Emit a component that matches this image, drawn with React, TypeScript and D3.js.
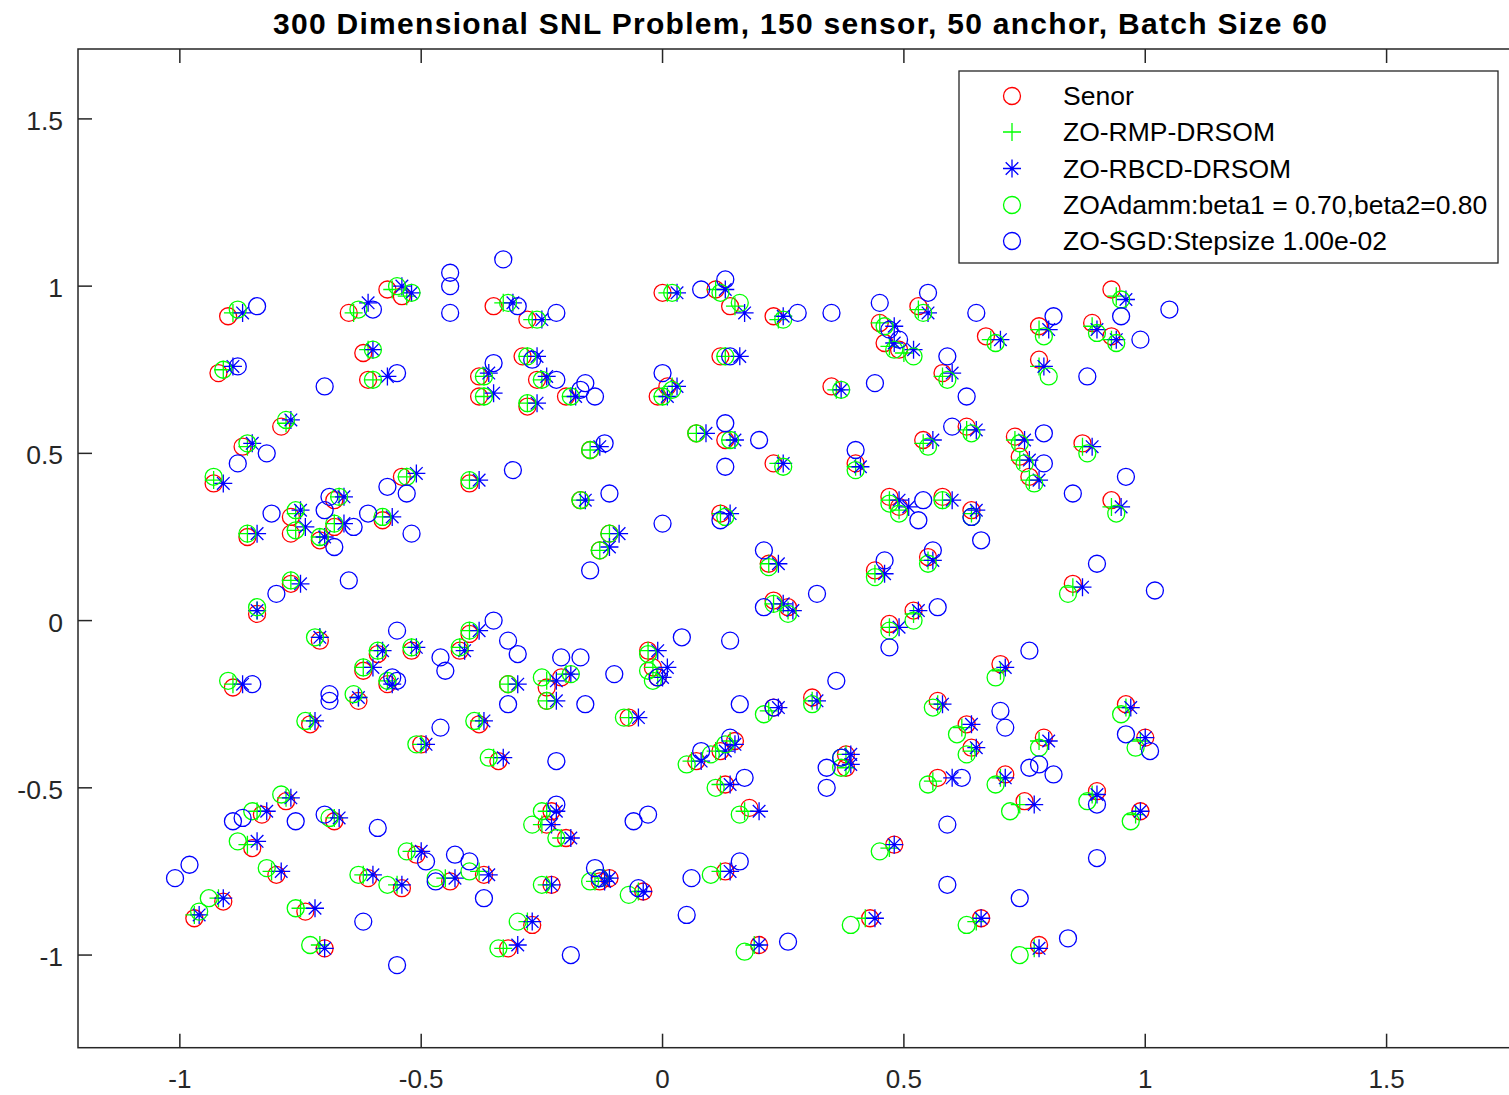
import React from "react";
import * as d3 from "d3";

type Pt = [number, number];

const titleText = "300 Dimensional SNL Problem, 150 sensor, 50 anchor, Batch Size 60";
const xTicks = [-1, -0.5, 0, 0.5, 1, 1.5];
const yTicks = [-1, -0.5, 0, 0.5, 1, 1.5];
const tickLabels = ["-1", "-0.5", "0", "0.5", "1", "1.5"];
const legendLabels = [
  "Senor",
  "ZO-RMP-DRSOM",
  "ZO-RBCD-DRSOM",
  "ZOAdamm:beta1 = 0.70,beta2=0.80",
  "ZO-SGD:Stepsize 1.00e-02",
];

// true sensor positions (red circles)
const senor: Pt[] = [
  [-0.90, 0.91], [-0.92, 0.74], [-0.65, 0.92], [-0.57, 0.99], [-0.54, 0.97], [-0.62, 0.80], [-0.61, 0.72], [-0.35, 0.94],
  [-0.38, 0.73], [-0.38, 0.67], [-0.79, 0.58], [-0.87, 0.52], [-0.93, 0.41], [-0.54, 0.43], [-0.40, 0.41],
  [-0.28, 0.90], [0.00, 0.98], [0.11, 0.99], [0.14, 0.94], [0.23, 0.91], [-0.29, 0.79], [-0.26, 0.72], [-0.20, 0.67],
  [-0.28, 0.64], [-0.01, 0.67], [0.01, 0.70], [0.12, 0.79], [0.35, 0.70], [0.07, 0.56], [0.13, 0.54], [0.23, 0.47], [-0.15, 0.51],
  [0.93, 0.99], [0.53, 0.94], [0.45, 0.89], [0.46, 0.83], [0.49, 0.81], [0.78, 0.88], [0.89, 0.89], [0.93, 0.85], [0.67, 0.85],
  [0.78, 0.78], [0.58, 0.74], [0.63, 0.58], [0.54, 0.54], [0.73, 0.55], [0.74, 0.49], [0.76, 0.43], [0.87, 0.53], [0.40, 0.47],
  [-0.68, 0.36], [-0.77, 0.31], [-0.77, 0.26], [-0.86, 0.25], [-0.71, 0.24], [-0.68, 0.28], [-0.58, 0.30], [-0.77, 0.11],
  [-0.84, 0.02], [-0.71, -0.06], [-0.59, -0.10], [-0.52, -0.09], [-0.40, -0.04], [-0.42, -0.09], [-0.62, -0.15], [-0.57, -0.19],
  [-0.63, -0.24], [-0.89, -0.20], [-0.38, -0.31], [-0.73, -0.31],
  [-0.17, 0.36], [-0.11, 0.26], [-0.13, 0.21], [0.12, 0.32], [0.22, 0.17], [0.23, 0.06], [0.26, 0.04], [-0.32, -0.19],
  [-0.24, -0.20], [-0.21, -0.17], [-0.24, -0.24], [-0.07, -0.29], [-0.03, -0.09], [-0.02, -0.14], [-0.01, -0.17], [0.23, -0.26], [0.31, -0.23],
  [0.47, 0.37], [0.49, 0.34], [0.58, 0.37], [0.64, 0.33], [0.93, 0.36], [0.44, 0.15], [0.55, 0.19], [0.85, 0.11], [0.52, 0.03],
  [0.47, -0.01], [0.70, -0.13], [0.57, -0.24], [0.63, -0.31], [0.96, -0.25],
  [-0.50, -0.37], [-0.34, -0.42], [-0.78, -0.54], [-0.83, -0.58], [-0.68, -0.60], [-0.85, -0.68], [-0.51, -0.70], [-0.80, -0.76],
  [-0.61, -0.77], [-0.54, -0.80], [-0.44, -0.78], [-0.37, -0.76], [-0.97, -0.89], [-0.91, -0.84], [-0.74, -0.87], [-0.70, -0.98],
  [-0.23, -0.57], [-0.24, -0.61], [-0.20, -0.65], [0.15, -0.36], [0.12, -0.39], [0.07, -0.42], [0.13, -0.49], [0.18, -0.56],
  [0.13, -0.75], [-0.13, -0.78], [-0.11, -0.77], [-0.04, -0.81], [-0.23, -0.79], [-0.27, -0.91], [-0.32, -0.98], [0.20, -0.97],
  [0.64, -0.38], [0.79, -0.35], [0.71, -0.46], [0.57, -0.47], [0.75, -0.54], [1.00, -0.35], [0.90, -0.51], [0.99, -0.57],
  [0.38, -0.40], [0.38, -0.44], [0.48, -0.67], [0.43, -0.89], [0.66, -0.89], [0.78, -0.97],
];

// ZO-RMP-DRSOM (green plus)
const zoRmp: Pt[] = [
  [-0.89, 0.92], [-0.91, 0.75], [-0.64, 0.92], [-0.56, 0.99], [-0.53, 0.97], [-0.61, 0.81], [-0.60, 0.72], [-0.33, 0.95],
  [-0.37, 0.73], [-0.37, 0.67], [-0.78, 0.59], [-0.86, 0.52], [-0.93, 0.42], [-0.53, 0.43], [-0.40, 0.42],
  [-0.27, 0.90], [0.01, 0.98], [0.11, 0.99], [0.15, 0.94], [0.24, 0.90], [-0.28, 0.79], [-0.25, 0.72], [-0.19, 0.67],
  [-0.28, 0.65], [0.00, 0.67], [0.02, 0.70], [0.13, 0.79], [0.36, 0.69], [0.07, 0.56], [0.14, 0.54], [0.24, 0.47], [-0.15, 0.51],
  [0.94, 0.97], [0.53, 0.93], [0.45, 0.89], [0.47, 0.82], [0.50, 0.80], [0.78, 0.87], [0.89, 0.88], [0.93, 0.84], [0.68, 0.84],
  [0.78, 0.76], [0.58, 0.73], [0.63, 0.57], [0.54, 0.53], [0.73, 0.54], [0.74, 0.48], [0.76, 0.42], [0.87, 0.52], [0.40, 0.46],
  [-0.67, 0.37], [-0.76, 0.32], [-0.76, 0.27], [-0.86, 0.26], [-0.71, 0.25], [-0.68, 0.29], [-0.58, 0.31], [-0.77, 0.12],
  [-0.84, 0.03], [-0.71, -0.05], [-0.59, -0.09], [-0.52, -0.08], [-0.40, -0.03], [-0.42, -0.08], [-0.62, -0.14], [-0.57, -0.18],
  [-0.63, -0.23], [-0.89, -0.19], [-0.38, -0.30], [-0.73, -0.30],
  [-0.17, 0.36], [-0.11, 0.26], [-0.13, 0.21], [0.12, 0.32], [0.22, 0.17], [0.23, 0.05], [0.26, 0.03], [-0.32, -0.19],
  [-0.24, -0.18], [-0.20, -0.16], [-0.24, -0.24], [-0.07, -0.29], [-0.03, -0.09], [-0.02, -0.14], [-0.01, -0.17], [0.22, -0.27], [0.31, -0.24],
  [0.47, 0.36], [0.49, 0.33], [0.58, 0.36], [0.64, 0.32], [0.93, 0.34], [0.44, 0.14], [0.55, 0.18], [0.85, 0.10], [0.52, 0.02],
  [0.47, -0.02], [0.70, -0.15], [0.57, -0.25], [0.62, -0.32], [0.96, -0.26],
  [-0.50, -0.37], [-0.35, -0.41], [-0.78, -0.53], [-0.84, -0.57], [-0.68, -0.59], [-0.86, -0.67], [-0.52, -0.69], [-0.81, -0.75],
  [-0.62, -0.76], [-0.55, -0.79], [-0.45, -0.77], [-0.38, -0.75], [-0.97, -0.88], [-0.92, -0.83], [-0.75, -0.86], [-0.71, -0.97],
  [-0.24, -0.57], [-0.25, -0.61], [-0.21, -0.65], [0.14, -0.36], [0.11, -0.39], [0.06, -0.42], [0.12, -0.49], [0.17, -0.57],
  [0.12, -0.75], [-0.14, -0.78], [-0.12, -0.77], [-0.05, -0.81], [-0.24, -0.79], [-0.28, -0.90], [-0.33, -0.98], [0.19, -0.97],
  [0.64, -0.39], [0.78, -0.36], [0.70, -0.47], [0.56, -0.48], [0.74, -0.55], [0.99, -0.36], [0.89, -0.52], [0.98, -0.58],
  [0.38, -0.40], [0.38, -0.44], [0.47, -0.68], [0.42, -0.89], [0.65, -0.90], [0.77, -0.98],
];

// ZO-RBCD-DRSOM (blue star)
const zoRbcd: Pt[] = [
  [-0.87, 0.92], [-0.89, 0.76], [-0.61, 0.95], [-0.54, 1.00], [-0.52, 0.98], [-0.60, 0.81], [-0.57, 0.73], [-0.36, 0.74],
  [-0.35, 0.68], [-0.77, 0.60], [-0.85, 0.53], [-0.91, 0.41], [-0.51, 0.44], [-0.38, 0.42],
  [-0.31, 0.95], [-0.25, 0.90], [0.03, 0.98], [0.13, 0.99], [0.17, 0.92], [0.25, 0.91], [-0.26, 0.79], [-0.24, 0.73], [-0.18, 0.67],
  [-0.26, 0.65], [0.01, 0.67], [0.03, 0.70], [0.16, 0.79], [0.09, 0.56], [0.15, 0.54], [0.25, 0.47], [-0.13, 0.52],
  [0.96, 0.96], [0.55, 0.92], [0.48, 0.88], [0.48, 0.83], [0.52, 0.81], [0.80, 0.87], [0.90, 0.87], [0.94, 0.84], [0.70, 0.84],
  [0.79, 0.76], [0.60, 0.74], [0.37, 0.69], [0.65, 0.57], [0.56, 0.54], [0.75, 0.54], [0.76, 0.48], [0.78, 0.42], [0.89, 0.52], [0.41, 0.46],
  [-0.66, 0.37], [-0.75, 0.33], [-0.74, 0.28], [-0.84, 0.26], [-0.70, 0.25], [-0.66, 0.29], [-0.56, 0.31], [-0.75, 0.11],
  [-0.84, 0.03], [-0.71, -0.05], [-0.58, -0.09], [-0.51, -0.08], [-0.38, -0.03], [-0.41, -0.09], [-0.60, -0.14], [-0.56, -0.19],
  [-0.63, -0.23], [-0.87, -0.19], [-0.37, -0.30], [-0.72, -0.30],
  [-0.16, 0.36], [-0.09, 0.26], [-0.11, 0.22], [0.14, 0.32], [0.24, 0.17], [0.25, 0.05], [0.27, 0.03], [-0.30, -0.19],
  [-0.22, -0.18], [-0.19, -0.16], [-0.22, -0.24], [-0.05, -0.29], [-0.01, -0.09], [0.01, -0.14], [0.00, -0.17], [0.24, -0.26], [0.32, -0.24],
  [0.49, 0.36], [0.51, 0.34], [0.60, 0.36], [0.65, 0.33], [0.95, 0.34], [0.46, 0.14], [0.56, 0.18], [0.87, 0.10], [0.53, 0.03],
  [0.49, -0.02], [0.71, -0.14], [0.58, -0.25], [0.64, -0.31], [0.97, -0.26],
  [-0.49, -0.37], [-0.33, -0.41], [-0.77, -0.53], [-0.82, -0.57], [-0.67, -0.59], [-0.84, -0.66], [-0.50, -0.69], [-0.79, -0.75],
  [-0.60, -0.76], [-0.54, -0.79], [-0.43, -0.77], [-0.36, -0.76], [-0.96, -0.88], [-0.91, -0.83], [-0.72, -0.86], [-0.70, -0.98],
  [-0.22, -0.57], [-0.23, -0.61], [-0.19, -0.65], [0.15, -0.37], [0.13, -0.39], [0.08, -0.42], [0.14, -0.49], [0.20, -0.57],
  [0.14, -0.75], [-0.12, -0.78], [-0.11, -0.77], [-0.04, -0.81], [-0.23, -0.79], [-0.27, -0.90], [-0.30, -0.97], [0.20, -0.97],
  [0.65, -0.38], [0.80, -0.36], [0.71, -0.47], [0.60, -0.47], [0.77, -0.55], [1.00, -0.35], [0.90, -0.52], [0.99, -0.57],
  [0.39, -0.40], [0.39, -0.43], [0.48, -0.67], [0.44, -0.89], [0.66, -0.89], [0.78, -0.98],
];

// ZOAdamm (green circles)
const zoAdamm: Pt[] = [
  [-0.88, 0.93], [-0.91, 0.75], [-0.63, 0.93], [-0.55, 1.00], [-0.52, 0.98], [-0.60, 0.81], [-0.60, 0.72], [-0.37, 0.73],
  [-0.37, 0.67], [-0.78, 0.60], [-0.86, 0.53], [-0.93, 0.43], [-0.53, 0.43], [-0.40, 0.42],
  [-0.32, 0.95], [-0.26, 0.90], [0.02, 0.98], [0.12, 0.98], [0.16, 0.95], [0.25, 0.90], [-0.28, 0.79], [-0.25, 0.72], [-0.19, 0.67],
  [-0.28, 0.65], [0.00, 0.67], [0.02, 0.69], [0.13, 0.79], [0.37, 0.69], [0.07, 0.56], [0.14, 0.54], [0.25, 0.46], [-0.15, 0.51],
  [0.95, 0.96], [0.54, 0.92], [0.46, 0.88], [0.48, 0.81], [0.52, 0.79], [0.79, 0.85], [0.90, 0.86], [0.94, 0.83], [0.69, 0.83],
  [0.80, 0.73], [0.59, 0.72], [0.64, 0.56], [0.55, 0.52], [0.74, 0.53], [0.75, 0.47], [0.77, 0.41], [0.88, 0.50], [0.40, 0.45],
  [-0.67, 0.37], [-0.76, 0.33], [-0.76, 0.27], [-0.86, 0.26], [-0.71, 0.25], [-0.68, 0.29], [-0.58, 0.31], [-0.77, 0.12],
  [-0.84, 0.04], [-0.72, -0.05], [-0.59, -0.09], [-0.52, -0.08], [-0.40, -0.03], [-0.42, -0.08], [-0.62, -0.14], [-0.57, -0.18],
  [-0.64, -0.22], [-0.90, -0.18], [-0.39, -0.30], [-0.74, -0.30],
  [-0.17, 0.36], [-0.11, 0.26], [-0.13, 0.21], [0.13, 0.31], [0.22, 0.16], [0.23, 0.05], [0.26, 0.02], [-0.32, -0.19],
  [-0.25, -0.17], [-0.19, -0.16], [-0.24, -0.24], [-0.08, -0.29], [-0.03, -0.10], [-0.03, -0.15], [-0.02, -0.18], [0.21, -0.28], [0.31, -0.25],
  [0.47, 0.35], [0.49, 0.32], [0.58, 0.36], [0.64, 0.31], [0.94, 0.32], [0.44, 0.13], [0.55, 0.17], [0.84, 0.08], [0.52, 0.00],
  [0.47, -0.03], [0.69, -0.17], [0.56, -0.26], [0.95, -0.28],
  [-0.51, -0.37], [-0.36, -0.41], [-0.79, -0.52], [-0.85, -0.57], [-0.69, -0.59], [-0.88, -0.66], [-0.53, -0.69], [-0.82, -0.74],
  [-0.63, -0.76], [-0.57, -0.79], [-0.47, -0.77], [-0.40, -0.75], [-0.96, -0.87], [-0.94, -0.83], [-0.76, -0.86], [-0.73, -0.97], [-0.34, -0.98],
  [-0.25, -0.57], [-0.27, -0.61], [-0.22, -0.65], [0.05, -0.43], [0.10, -0.40], [0.13, -0.37], [0.11, -0.50], [0.16, -0.58],
  [0.10, -0.76], [-0.15, -0.78], [-0.13, -0.77], [-0.07, -0.82], [-0.25, -0.79], [-0.30, -0.90], [0.17, -0.99],
  [0.61, -0.34], [0.63, -0.40], [0.78, -0.38], [0.69, -0.49], [0.55, -0.49], [0.72, -0.57], [0.98, -0.38], [0.88, -0.54],
  [0.97, -0.60], [0.37, -0.44], [0.37, -0.41], [0.45, -0.69], [0.39, -0.91], [0.63, -0.91], [0.74, -1.00],
];

// ZO-SGD (blue circles)
const zoSgd: Pt[] = [
  [-0.84, 0.94], [-0.88, 0.76], [-0.60, 0.93], [-0.44, 1.04], [-0.44, 1.00], [-0.44, 0.92], [-0.33, 1.08], [-0.70, 0.70],
  [-0.55, 0.74], [-0.35, 0.77], [-0.82, 0.50], [-0.88, 0.47], [-0.57, 0.40],
  [-0.30, 0.94], [-0.22, 0.92], [0.13, 1.02], [0.08, 0.99], [0.28, 0.92], [0.35, 0.92], [-0.27, 0.78], [-0.22, 0.72], [-0.16, 0.71],
  [-0.14, 0.67], [-0.17, 0.69], [0.00, 0.74], [0.14, 0.79], [0.13, 0.59], [0.20, 0.54], [0.13, 0.46], [-0.12, 0.53], [-0.31, 0.45],
  [0.45, 0.95], [0.55, 0.98], [0.65, 0.92], [0.81, 0.91], [0.95, 0.91], [1.05, 0.93], [0.47, 0.87], [0.49, 0.84], [0.99, 0.84],
  [0.59, 0.79], [0.88, 0.73], [0.44, 0.71], [0.63, 0.67], [0.60, 0.58], [0.79, 0.56], [0.79, 0.47], [0.40, 0.51], [0.96, 0.43],
  [-0.53, 0.38], [-0.69, 0.37], [-0.70, 0.33], [-0.81, 0.32], [-0.64, 0.28], [-0.61, 0.32], [-0.68, 0.22], [-0.52, 0.26],
  [-0.65, 0.12], [-0.80, 0.08], [-0.55, -0.03], [-0.46, -0.11], [-0.45, -0.15], [-0.56, -0.17], [-0.55, -0.18], [-0.69, -0.22],
  [-0.69, -0.24], [-0.85, -0.19], [-0.35, 0.00], [-0.46, -0.32],
  [-0.11, 0.38], [-0.15, 0.15], [0.00, 0.29], [0.12, 0.30], [0.21, 0.21], [0.21, 0.04], [0.32, 0.08], [-0.32, -0.06],
  [-0.30, -0.10], [-0.21, -0.11], [-0.17, -0.11], [-0.10, -0.16], [-0.16, -0.25], [-0.32, -0.25], [-0.01, -0.17], [0.04, -0.05],
  [0.14, -0.06], [0.36, -0.18], [0.16, -0.25], [0.23, -0.26],
  [0.85, 0.38], [0.54, 0.36], [0.53, 0.30], [0.64, 0.31], [0.66, 0.24], [0.46, 0.18], [0.56, 0.21], [0.90, 0.17], [1.02, 0.09],
  [0.57, 0.04], [0.47, -0.08], [0.76, -0.09], [0.70, -0.27], [0.71, -0.32],
  [-0.89, -0.60], [-0.87, -0.59], [-0.76, -0.60], [-0.70, -0.58], [-0.59, -0.62], [-0.49, -0.72], [-0.98, -0.73], [-1.01, -0.77],
  [-0.43, -0.70], [-0.40, -0.72], [-0.47, -0.78], [-0.37, -0.83], [-0.62, -0.90], [-0.55, -1.03],
  [-0.22, -0.42], [-0.22, -0.55], [-0.06, -0.60], [-0.03, -0.58], [0.14, -0.35], [0.08, -0.39], [0.17, -0.47], [0.34, -0.44],
  [0.34, -0.50], [0.16, -0.72], [0.06, -0.77], [0.05, -0.88], [-0.14, -0.74], [-0.13, -0.77], [-0.05, -0.80], [-0.19, -1.00], [0.26, -0.96],
  [0.76, -0.44], [0.78, -0.43], [0.81, -0.46], [0.62, -0.47], [0.96, -0.34], [1.01, -0.39], [0.90, -0.55], [0.37, -0.41],
  [0.59, -0.61], [0.90, -0.71], [0.59, -0.79], [0.74, -0.83], [0.84, -0.95],
];

const FONT = "'Liberation Sans', Arial, Helvetica, sans-serif";
const AXIS = "#262626";
const RED = "#ff0000";
const GREEN = "#00ff00";
const BLUE = "#0000ff";
const R = 8.5;
const ARM = 9;

function plusPath(x: number, y: number, s = ARM) {
  return `M${x - s},${y}H${x + s}M${x},${y - s}V${y + s}`;
}

function starPath(x: number, y: number, s = ARM) {
  const d = s * 0.7;
  return (
    plusPath(x, y, s) +
    `M${x - d},${y - d}L${x + d},${y + d}M${x - d},${y + d}L${x + d},${y - d}`
  );
}

export default function App() {
  const width = 1509;
  const height = 1095;
  const left = 78;
  const top = 49;
  const bottom = 1047.7;
  const right = 1531.4; // axes box runs past the right edge of the picture

  const x = d3.scaleLinear().domain([-1.211, 1.8]).range([left, right]);
  const y = d3.scaleLinear().domain([-1.277, 1.709]).range([bottom, top]);

  const legendRows = [96, 132, 168.5, 205, 241];
  const legendMarkerX = 1012;

  return (
    <svg
      width={width}
      height={height}
      style={{ position: "absolute", left: 0, top: 0, background: "#fff" }}
      fontFamily={FONT}
    >
      <rect x={0} y={0} width={width} height={height} fill="#fff" />

      {/* title */}
      <text
        x={800}
        y={34}
        textAnchor="middle"
        fontSize={30}
        fontWeight="bold"
        fill="#000"
        textLength={1054}
        lengthAdjust="spacing"
      >
        {titleText}
      </text>

      {/* axes box */}
      <rect
        x={left}
        y={top}
        width={right - left}
        height={bottom - top}
        fill="none"
        stroke={AXIS}
        strokeWidth={1.5}
      />

      {/* x ticks */}
      {xTicks.map((t, i) => (
        <g key={"xt" + i}>
          <line x1={x(t)} x2={x(t)} y1={bottom} y2={bottom - 14} stroke={AXIS} strokeWidth={1.5} />
          <line x1={x(t)} x2={x(t)} y1={top} y2={top + 14} stroke={AXIS} strokeWidth={1.5} />
          <text x={x(t)} y={1088} textAnchor="middle" fontSize={26} fill={AXIS}>
            {tickLabels[i]}
          </text>
        </g>
      ))}

      {/* y ticks */}
      {yTicks.map((t, i) => (
        <g key={"yt" + i}>
          <line x1={left} x2={left + 14} y1={y(t)} y2={y(t)} stroke={AXIS} strokeWidth={1.5} />
          <text x={63} y={y(t) + 11} textAnchor="end" fontSize={26.5} fill={AXIS}>
            {tickLabels[i]}
          </text>
        </g>
      ))}

      {/* series, in plotting order */}
      <g fill="none" strokeWidth={1.3}>
        {senor.map((d, i) => (
          <circle key={"s" + i} cx={x(d[0])} cy={y(d[1])} r={R} stroke={RED} />
        ))}
        {zoRmp.map((d, i) => (
          <path key={"p" + i} d={plusPath(x(d[0]), y(d[1]))} stroke={GREEN} />
        ))}
        {zoRbcd.map((d, i) => (
          <path key={"b" + i} d={starPath(x(d[0]), y(d[1]))} stroke={BLUE} />
        ))}
        {zoAdamm.map((d, i) => (
          <circle key={"a" + i} cx={x(d[0])} cy={y(d[1])} r={R} stroke={GREEN} />
        ))}
        {zoSgd.map((d, i) => (
          <circle key={"g" + i} cx={x(d[0])} cy={y(d[1])} r={R} stroke={BLUE} />
        ))}
      </g>

      {/* legend */}
      <g>
        <rect x={959} y={71} width={539} height={192} fill="#fff" stroke={AXIS} strokeWidth={1.3} />
        <g fill="none" strokeWidth={1.3}>
          <circle cx={legendMarkerX} cy={legendRows[0]} r={R} stroke={RED} />
          <path d={plusPath(legendMarkerX, legendRows[1])} stroke={GREEN} />
          <path d={starPath(legendMarkerX, legendRows[2])} stroke={BLUE} />
          <circle cx={legendMarkerX} cy={legendRows[3]} r={R} stroke={GREEN} />
          <circle cx={legendMarkerX} cy={legendRows[4]} r={R} stroke={BLUE} />
        </g>
        {legendLabels.map((l, i) => (
          <text key={"l" + i} x={1063} y={legendRows[i] + 9} fontSize={26.5} fill="#000">
            {l}
          </text>
        ))}
      </g>
    </svg>
  );
}
